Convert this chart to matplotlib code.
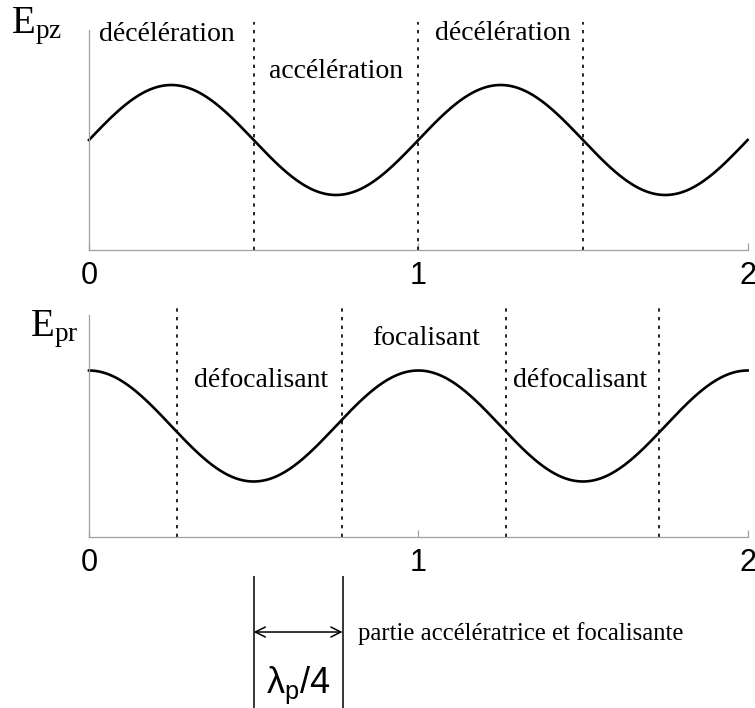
"""
Schéma des champs E_pz et E_pr dans le sillage plasma.
"""
import numpy as np
import matplotlib
matplotlib.use("Agg")
import matplotlib.pyplot as plt

plt.rcParams['mathtext.fontset'] = 'custom'
plt.rcParams['mathtext.rm'] = 'Liberation Serif'
plt.rcParams['mathtext.sf'] = 'Liberation Sans'
plt.rcParams['mathtext.it'] = 'Liberation Serif:italic'

SERIF = 'Liberation Serif'
SANS = 'Liberation Sans'

# Données (x en unités de lambda_p)
x_ticks = [0, 1, 2]
x_tick_labels = ['0', '1', '2']

# onde E_pz : décalage, amplitude, période
pz_offset, pz_amp, pz_period = 0.5, 0.25, 1.0
pz_dashed = [0.5, 1.0, 1.5]
pz_labels = ['décélération', 'accélération', 'décélération']
pz_label_x = [0.238, 0.75, 1.256]
pz_label_y = [0.95, 0.782, 0.955]

# onde E_pr
pr_offset, pr_amp, pr_period = 0.5, 0.25, 1.0
pr_dashed = [0.268, 0.767, 1.266, 1.732]
pr_labels = ['défocalisant', 'focalisant', 'défocalisant']
pr_label_x = [0.521, 1.023, 1.49]
pr_label_y = [0.676, 0.865, 0.676]

# zone accélératrice et focalisante
zone = [0.5, 0.77]

x = np.linspace(0, 2, 600)
e_pz = pz_offset + pz_amp * np.sin(2 * np.pi * x / pz_period)
e_pr = pr_offset + pr_amp * np.cos(2 * np.pi * x / pr_period)

fig = plt.figure(figsize=(7.55, 7.08), dpi=100)
ax1 = fig.add_axes([89 / 755, 1 - 250 / 708, 658.6 / 755, 220 / 708])
ax2 = fig.add_axes([89 / 755, 1 - 537 / 708, 658.6 / 755, 222 / 708])


def style_axes(ax):
    ax.set_xlim(0, 2)
    ax.set_ylim(0, 1)
    for side in ['top', 'right']:
        ax.spines[side].set_visible(False)
    for side in ['left', 'bottom']:
        ax.spines[side].set_color('#a0a0a0')
        ax.spines[side].set_linewidth(0.9)
    ax.set_yticks([])
    ax.set_xticks(x_ticks)
    ax.set_xticklabels(x_tick_labels, fontfamily=SANS, fontsize=22)
    ax.tick_params(axis='x', direction='in', length=5, width=0.9,
                   color='#a0a0a0', pad=8)


# === GRAPHIQUE 1 : E_pz ===
style_axes(ax1)
ax1.plot(x, e_pz, color='black', linewidth=1.9, clip_on=False)
ax1.vlines(pz_dashed, 0, 1.035, colors='black', linewidth=1.2,
           linestyles=(0, (2, 3.2)), clip_on=False)
for lab, lx, ly in zip(pz_labels, pz_label_x, pz_label_y):
    ax1.text(lx, ly, lab, ha='center', va='baseline', fontfamily=SERIF, fontsize=20)
ax1.text(-0.118, 0.986, r'$\mathrm{E_{pz}}$', transform=ax1.transAxes,
         ha='left', va='baseline', fontsize=28)

# === GRAPHIQUE 2 : E_pr ===
style_axes(ax2)
ax2.plot(x, e_pr, color='black', linewidth=1.9, clip_on=False)
ax2.vlines(pr_dashed, 0, 1.03, colors='black', linewidth=1.2,
           linestyles=(0, (2, 3.2)), clip_on=False)
for lab, lx, ly in zip(pr_labels, pr_label_x, pr_label_y):
    ax2.text(lx, ly, lab, ha='center', va='baseline', fontfamily=SERIF, fontsize=20)
ax2.text(-0.0897, 0.905, r'$\mathrm{E_{pr}}$', transform=ax2.transAxes,
         ha='left', va='baseline', fontsize=28)

# === ANNOTATION lambda_p / 4 ===
ax2.vlines(zone, -0.176, -0.80, colors='black', linewidth=1.1, clip_on=False)
ax2.annotate('', xy=(zone[0], -0.428), xytext=(zone[1], -0.428),
             xycoords='data', annotation_clip=False,
             arrowprops=dict(arrowstyle='<->', color='black', lw=1.1,
                             shrinkA=0, shrinkB=0, mutation_scale=18))
ax2.text(0.817, -0.464, 'partie accélératrice et focalisante',
         ha='left', va='baseline', fontfamily=SERIF, fontsize=17.8)
ax2.text(sum(zone) / 2, -0.703, r'$\mathsf{\lambda_{p}/4}$',
         ha='center', va='baseline', fontsize=26)

fig.savefig('out.png', dpi=100)
